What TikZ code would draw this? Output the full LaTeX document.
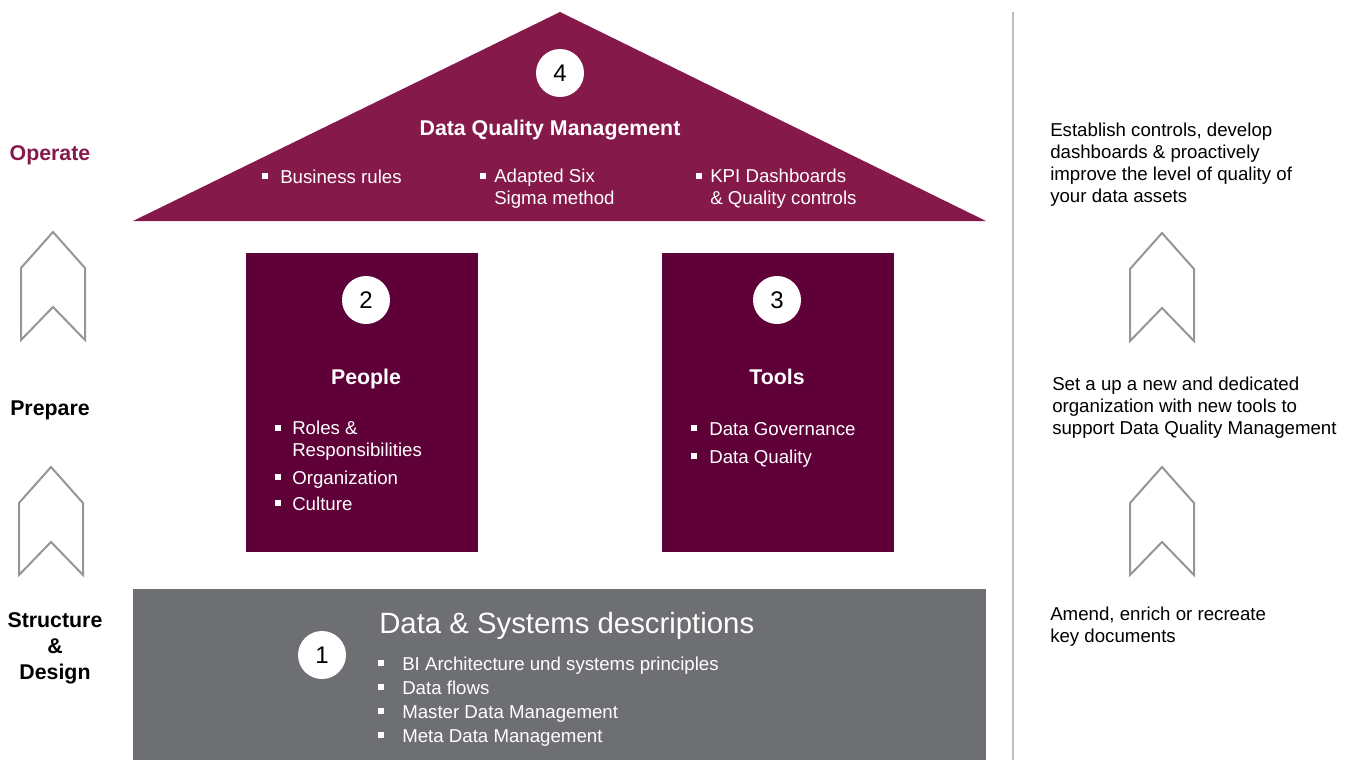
\documentclass[tikz,border=0pt]{standalone}
\usepackage{fontspec}
\setmainfont{Liberation Sans}
\usetikzlibrary{positioning}

\definecolor{roofred}{RGB}{133,25,74}
\definecolor{pillarred}{RGB}{95,0,56}
\definecolor{basegray}{RGB}{110,111,115}
\definecolor{chevgray}{RGB}{150,150,150}
\definecolor{rulegray}{RGB}{190,190,190}

\newcommand{\blt}[1][13pt]{\makebox[#1][l]{\rule[0.22em]{4.5pt}{4.5pt}}}

\begin{document}
\begin{tikzpicture}[x=0.75pt, y=-0.75pt,
    numdot/.style={circle, fill=white, minimum size=36pt, inner sep=0pt, font=\fontsize{18}{21}\selectfont},
    head/.style={text=white, font=\bfseries\fontsize{16}{19}\selectfont},
    item/.style={anchor=base west, inner sep=0pt, align=left, text=white, font=\fontsize{14}{16.5}\selectfont},
    side/.style={anchor=west, inner sep=0pt, align=left, font=\fontsize{14}{16.5}\selectfont},
    stage/.style={align=center, font=\bfseries\fontsize{16}{19.5}\selectfont},
    chev/.style={draw=chevgray, line width=1.5pt}]

        \useasboundingbox (0,0) rectangle (1354,760);

        % Roof: data quality management
        \fill[roofred] (133,221) -- (560,12) -- (986,221) -- cycle;
        \node[numdot] (n4) at (560,73) {4};
        \node[head] (dqm) at (550,130) {Data Quality Management};
        \node[item] (rules) at (262,183) {\blt[13.5pt]Business rules};
        \node[item, anchor=west] (sigma) at (480,189) {\blt[10.5pt]Adapted Six\\\hspace*{10.5pt}Sigma method};
        \node[item, anchor=west] (kpi) at (696,189) {\blt[10.5pt]KPI Dashboards\\\hspace*{10.5pt}\& Quality controls};

        % Left pillar: people
        \fill[pillarred] (246,253) rectangle (478,552);
        \node[numdot] (n2) at (366,300) {2};
        \node[head] (people) at (366,379) {People};
        \node[item, anchor=west] (roles) at (275,441) {\blt[12.75pt]Roles \&\\\hspace*{12.75pt}Responsibilities};
        \node[item] (orga) at (275,484) {\blt[12.75pt]Organization};
        \node[item] (culture) at (275,510) {\blt[12.75pt]Culture};

        % Right pillar: tools
        \fill[pillarred] (662,253) rectangle (894,552);
        \node[numdot] (n3) at (777,300) {3};
        \node[head] (tools) at (777,377) {Tools};
        \node[item] (gov) at (691,435) {\blt[13.5pt]Data Governance};
        \node[item] (dq) at (691,463) {\blt[13.5pt]Data Quality};

        % Foundation: descriptions
        \fill[basegray] (133,589) rectangle (986,760);
        \node[numdot] (n1) at (322,655) {1};
        \node[item, font=\fontsize{22}{26}\selectfont] (dsd) at (379,633.5) {Data \& Systems descriptions};
        \node[item] (bia) at (378,670) {\blt[18pt]BI Architecture und systems principles};
        \node[item] (flows) at (378,694) {\blt[18pt]Data flows};
        \node[item] (mdm) at (378,718) {\blt[18pt]Master Data Management};
        \node[item] (meta) at (378,742) {\blt[18pt]Meta Data Management};

        % Stages on the left
        \node[stage, text=roofred] (operate) at (50,155) {Operate};
        \node[stage] (prepare) at (50,410) {Prepare};
        \node[stage] (design) at (55,648) {Structure\\\&\\Design};

        % Chevrons
        \foreach \cx/\cy in {53/232, 51/467, 1162/233, 1162/467}
            \draw[chev] (\cx,\cy) -- ++(32,36) -- ++(0,72) -- ++(-32,-33) -- ++(-32,33) -- ++(0,-72) -- cycle;

        % Divider and notes on the right
        \draw[rulegray, line width=1.5pt] (1013,12) -- (1013,760);
        \node[side] (ctrl) at (1050,164.5) {Establish controls, develop\\dashboards \& proactively\\improve the level of quality of\\your data assets};
        \node[side] (setup) at (1052,407.5) {Set a up a new and dedicated\\organization with new tools to\\support Data Quality Management};
        \node[side] (docs) at (1050,626.5) {Amend, enrich or recreate\\key documents};
    \end{tikzpicture}
\end{document}
